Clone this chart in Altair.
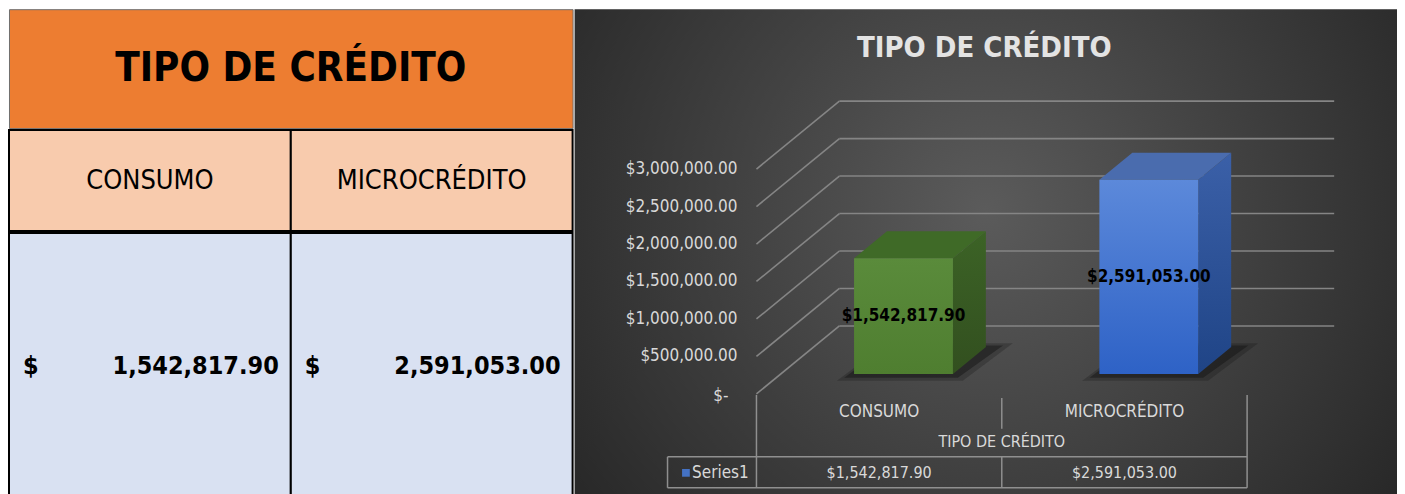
import altair as alt
import pandas as pd

# ---------------- data ----------------
CATEGORIES = ["CONSUMO", "MICROCRÉDITO"]
VALUES = [1542817.90, 2591053.00]
TICKS = [0, 500000, 1000000, 1500000, 2000000, 2500000, 3000000]
TITLE = "TIPO DE CRÉDITO"
SERIES_NAME = "Series1"

FONT = "Liberation Sans Narrow, Arial Narrow, DejaVu Sans Condensed, sans-serif"

# ---------------- panel A : the spreadsheet table ----------------
TABLE_W = 564
ROW_H = [119, 101, 266]
cat_df = pd.DataFrame({"cat": CATEGORIES, "value": VALUES})


def xcell(bp=None):
    kw = {}
    if bp is not None:
        kw["bandPosition"] = bp
    return alt.X("cat:N", sort=CATEGORIES, axis=None,
                 scale=alt.Scale(paddingInner=0, paddingOuter=0), **kw)


title_row = alt.Chart(pd.DataFrame({"t": [TITLE]})).mark_text(
    font=FONT, fontSize=40, fontWeight="bold", color="black"
).encode(text="t:N").properties(
    width=TABLE_W, height=ROW_H[0],
    view=alt.ViewBackground(fill="#ED7D31", stroke="#6f6f6f", strokeWidth=1),
)

header_row = alt.layer(
    alt.Chart(cat_df).mark_rect(fill="#F8CBAD", stroke="black", strokeWidth=2).encode(x=xcell()),
    alt.Chart(cat_df).mark_text(font=FONT, fontSize=27, color="black").encode(x=xcell(), text="cat:N"),
).properties(width=TABLE_W, height=ROW_H[1])

value_row = alt.layer(
    alt.Chart(cat_df).mark_rect(fill="#D9E1F2", stroke="black", strokeWidth=2).encode(x=xcell()),
    alt.Chart(cat_df).mark_text(font=FONT, fontSize=25, fontWeight="bold", align="left",
                                dx=14, color="black").encode(x=xcell(0), text=alt.value("$")),
    alt.Chart(cat_df).transform_calculate(lbl="format(datum.value, ',.2f')").mark_text(
        font=FONT, fontSize=25, fontWeight="bold", align="right", dx=-12, color="black"
    ).encode(x=xcell(1), text="lbl:N"),
).properties(width=TABLE_W, height=ROW_H[2])

left = alt.vconcat(title_row, header_row, value_row, spacing=0)

# ---------------- panel B : the 3-D column chart ----------------
PB_W, PB_H = 823, 486
N = len(CATEGORIES)
XS = alt.Scale(domain=[0, N], range=[182, 673], nice=False, zero=False)
YS = alt.Scale(domain=[0, 3000000], range=[385, 160], nice=False, zero=False)

WALL_DX = 0.338      # depth shift of the back wall, in category units
WALL_DV = 906667     # depth shift of the back wall, in value units
BAR_W = 0.403
BAR_FRONT = 0.294
BAR_DEPTH = 0.397


def X(f):
    return alt.X(f, type="quantitative", scale=XS, axis=None)


def Y(f):
    return alt.Y(f, type="quantitative", scale=YS, axis=None)


bg = alt.Chart(pd.DataFrame({"a": [0]})).mark_rect(
    fill={"gradient": "radial", "x1": 0.5, "y1": 0.45, "r1": 0, "x2": 0.5, "y2": 0.45, "r2": 0.62,
          "stops": [{"offset": 0, "color": "#5b5b5b"}, {"offset": 1, "color": "#272727"}]}
).encode(x=alt.value(0), x2=alt.value(PB_W), y=alt.value(0), y2=alt.value(PB_H))

grid_df = pd.DataFrame({
    "tick": TICKS,
    "xa": [0.0] * len(TICKS),
    "xb": [WALL_DX] * len(TICKS),
    "xe": [N + WALL_DX * 1.05] * len(TICKS),
    "yb": [t + WALL_DV for t in TICKS],
})
back_lines = alt.Chart(grid_df).mark_rule(color="#858585", strokeWidth=1.6).encode(
    x=X("xb"), x2="xe", y=Y("yb"))
diag_lines = alt.Chart(grid_df).mark_rule(color="#858585", strokeWidth=1.6).encode(
    x=X("xa"), x2="xb", y=Y("tick"), y2="yb")

TICK_STYLE = dict(font=FONT, fontSize=17, color="#d9d9d9", align="right", baseline="middle")
tick_labels = alt.Chart(grid_df).transform_filter("datum.tick > 0").transform_calculate(
    lbl="'$' + format(datum.tick, ',.2f')"
).mark_text(dx=-19, **TICK_STYLE).encode(x=X("xa"), y=Y("tick"), text="lbl:N")
zero_label = alt.Chart(grid_df).transform_filter("datum.tick == 0").transform_calculate(
    lbl="'$-'"
).mark_text(dx=-28, dy=2, **TICK_STYLE).encode(x=X("xa"), y=Y("tick"), text="lbl:N")

sx, sv = BAR_FRONT * WALL_DX, BAR_FRONT * WALL_DV
dx, dv = BAR_DEPTH * WALL_DX, BAR_DEPTH * WALL_DV
front_rows, side_rows, top_rows, shadow_rows, shadow2_rows = [], [], [], [], []
for i, (c, v) in enumerate(zip(CATEGORIES, VALUES)):
    xl = i + 0.5 - BAR_W / 2 + sx
    xr = i + 0.5 + BAR_W / 2 + sx
    front_rows.append({"cat": c, "value": v, "xl": xl, "xr": xr, "xc": (xl + xr) / 2,
                       "y0": sv, "y1": sv + v, "ym": sv + v / 2})
    side_rows += [{"cat": c, "x": xr, "lo": sv, "hi": sv + v},
                  {"cat": c, "x": xr + dx, "lo": sv + dv, "hi": sv + v + dv}]
    top_rows += [{"cat": c, "y": sv + v, "xa": xl, "xb": xr},
                 {"cat": c, "y": sv + v + dv, "xa": xl + dx, "xb": xr + dx}]
    shadow_rows += [{"cat": c, "y": sv - 50000, "xa": xl - 0.04, "xb": xr + 0.02},
                    {"cat": c, "y": sv + dv + 20000, "xa": xl + dx, "xb": xr + dx + 0.07}]
    shadow2_rows += [{"cat": c, "y": sv - 90000, "xa": xl - 0.07, "xb": xr + 0.04},
                     {"cat": c, "y": sv + dv + 50000, "xa": xl + dx, "xb": xr + dx + 0.11}]
front_df = pd.DataFrame(front_rows)
side_df = pd.DataFrame(side_rows)
top_df = pd.DataFrame(top_rows)
shadow_df = pd.DataFrame(shadow_rows)
shadow2_df = pd.DataFrame(shadow2_rows)


def vgrad(c0, c1):
    return {"gradient": "linear", "x1": 0, "y1": 0, "x2": 0, "y2": 1,
            "stops": [{"offset": 0, "color": c0}, {"offset": 1, "color": c1}]}


FRONT_FILL = [vgrad("#5a8b3b", "#4f7e30"), vgrad("#5c89da", "#2e62c6")]
SIDE_FILL = [vgrad("#3c6326", "#324f1f"), vgrad("#3b60a8", "#1f4486")]
TOP_FILL = ["#3f6a27", "#4a6cae"]

shadows2 = alt.Chart(shadow2_df).mark_area(orient="horizontal", color="#111111", opacity=0.25).encode(
    y=Y("y"), x=X("xa"), x2="xb", detail="cat:N")
shadows = alt.Chart(shadow_df).mark_area(orient="horizontal", color="#111111", opacity=0.45).encode(
    y=Y("y"), x=X("xa"), x2="xb", detail="cat:N")

bar_layers = []
for i, c in enumerate(CATEGORIES):
    bar_layers.append(alt.Chart(side_df).transform_filter(alt.datum.cat == c).mark_area(
        orient="vertical", fill=SIDE_FILL[i]).encode(x=X("x"), y=Y("lo"), y2="hi"))
    bar_layers.append(alt.Chart(top_df).transform_filter(alt.datum.cat == c).mark_area(
        orient="horizontal", fill=TOP_FILL[i]).encode(y=Y("y"), x=X("xa"), x2="xb"))
    bar_layers.append(alt.Chart(front_df).transform_filter(alt.datum.cat == c).mark_rect(
        fill=FRONT_FILL[i]).encode(x=X("xl"), x2="xr", y=Y("y0"), y2="y1"))

bar_labels = alt.Chart(front_df).transform_calculate(
    lbl="'$' + format(datum.value, ',.2f')"
).mark_text(font=FONT, fontSize=17, fontWeight="bold", color="black").encode(
    x=X("xc"), y=Y("ym"), text="lbl:N")

# bottom category / data table
LINE = "#8f8f8f"
TEXT = "#d9d9d9"
TBL_LEFT = -0.3625
outer_df = pd.DataFrame({"u": [0.0, float(N)]})
inner_df = pd.DataFrame({"u": [float(k) for k in range(1, N)]})
hline_df = pd.DataFrame({"a": [TBL_LEFT], "b": [float(N)]})
lab_df = pd.DataFrame({"cat": CATEGORIES, "value": VALUES, "u": [k + 0.5 for k in range(N)]})

table_layers = [
    alt.Chart(outer_df).mark_rule(color=LINE, strokeWidth=1.5).encode(
        x=X("u"), y=alt.value(386), y2=alt.value(479)),
    alt.Chart(inner_df).mark_rule(color=LINE, strokeWidth=1.5).encode(
        x=X("u"), y=alt.value(389), y2=alt.value(420)),
    alt.Chart(inner_df).mark_rule(color=LINE, strokeWidth=1.5).encode(
        x=X("u"), y=alt.value(448), y2=alt.value(479)),
    alt.Chart(hline_df).mark_rule(color=LINE, strokeWidth=1.5).encode(
        x=X("a"), x2="b", y=alt.value(448)),
    alt.Chart(hline_df).mark_rule(color=LINE, strokeWidth=1.5).encode(
        x=X("a"), x2="b", y=alt.value(479)),
    alt.Chart(hline_df).mark_rule(color=LINE, strokeWidth=1.5).encode(
        x=X("a"), y=alt.value(448), y2=alt.value(479)),
    alt.Chart(lab_df).mark_text(font=FONT, fontSize=17, color=TEXT).encode(
        x=X("u"), y=alt.value(403), text="cat:N"),
    alt.Chart(pd.DataFrame({"t": [TITLE], "u": [N / 2]})).mark_text(
        font=FONT, fontSize=16, color=TEXT).encode(x=X("u"), y=alt.value(433), text="t:N"),
    alt.Chart(lab_df).transform_calculate(lbl="'$' + format(datum.value, ',.2f')").mark_text(
        font=FONT, fontSize=16, color=TEXT).encode(x=X("u"), y=alt.value(464), text="lbl:N"),
    alt.Chart(pd.DataFrame({"s": [SERIES_NAME], "u": [TBL_LEFT + 0.075]})).mark_square(
        color="#4472C4", size=60, opacity=1).encode(x=X("u"), y=alt.value(464)),
    alt.Chart(pd.DataFrame({"s": [SERIES_NAME], "u": [TBL_LEFT + 0.1]})).mark_text(
        font=FONT, fontSize=17, color=TEXT, align="left").encode(x=X("u"), y=alt.value(464), text="s:N"),
]

chart_title = alt.Chart(pd.DataFrame({"t": [TITLE]})).mark_text(
    font=FONT, fontSize=29, fontWeight="bold", color="#e3e3e3"
).encode(x=alt.value(410), y=alt.value(39), text="t:N")

panel_b = alt.layer(
    bg, shadows2, shadows, back_lines, diag_lines, tick_labels, zero_label,
    *bar_layers, bar_labels, *table_layers, chart_title
).properties(width=PB_W, height=PB_H)

chart = alt.hconcat(left, panel_b, spacing=1).properties(padding=0).configure_view(strokeWidth=0)

chart.save("out.html", embed_options={"renderer": "svg", "actions": False})
